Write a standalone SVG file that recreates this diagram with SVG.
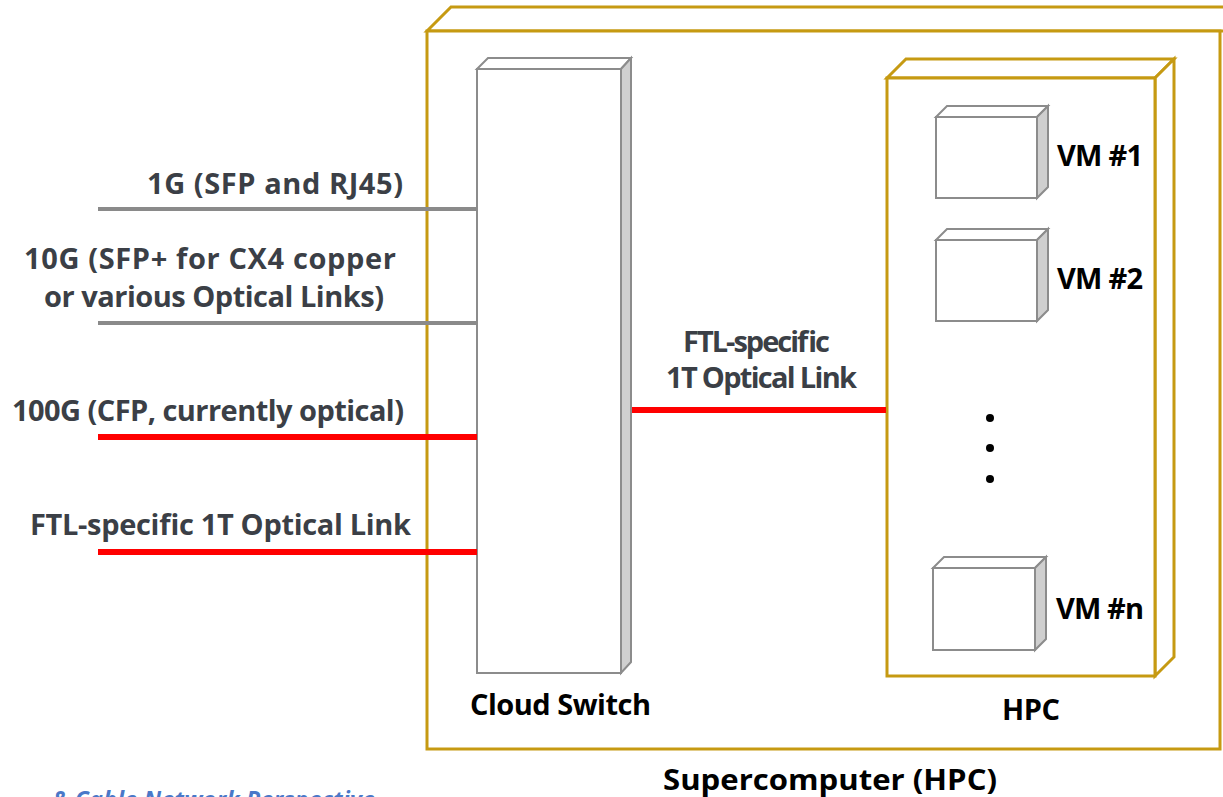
<svg xmlns="http://www.w3.org/2000/svg" width="1223" height="797" viewBox="0 0 1223 797">
  <style>
    .gold { fill: #ffffff; stroke: #c69a12; stroke-width: 3; stroke-linejoin: miter; }
    .box { fill: #ffffff; stroke: #8c8c8c; stroke-width: 2; }
    .side { fill: #cfcfcf; stroke: #8c8c8c; stroke-width: 2; }
    .lbl { font-family: "Open Sans", "Noto Sans", sans-serif; font-weight: bold; font-size: 29px; fill: #3b3f46; }
    .blk { font-family: "Open Sans", "Noto Sans", sans-serif; font-weight: bold; font-size: 29px; fill: #000000; }
    .gray { stroke: #8a8a8a; stroke-width: 4; fill: none; }
    .red { stroke: #ff0000; stroke-width: 6; fill: none; }
  </style>

  <rect width="1223" height="797" fill="#ffffff"/>

  <!-- Supercomputer enclosure -->
  <g id="supercomputer">
    <path class="gold" d="M427,31 L451,7 L1240,7 L1240,31 Z"/>
    <rect class="gold" x="427" y="31" width="793" height="718"/>
    <text class="blk" x="663" y="790" font-size="32" textLength="334" lengthAdjust="spacingAndGlyphs">Supercomputer (HPC)</text>
  </g>

  <!-- Cloud switch -->
  <g id="cloud-switch">
    <path class="box" d="M477,69 L488,58 L631,58 L621,69 Z"/>
    <path class="side" d="M621,69 L631,58 L631,662 L621,673 Z"/>
    <rect class="box" x="477" y="69" width="144" height="604"/>
    <text class="blk" x="470" y="715" textLength="181">Cloud Switch</text>
  </g>

  <!-- HPC -->
  <g id="hpc">
    <path class="gold" d="M887,78 L906,59 L1174,59 L1155,78 Z"/>
    <path class="gold" d="M1155,78 L1174,59 L1174,657 L1155,676 Z"/>
    <rect class="gold" x="887" y="78" width="268" height="598"/>
    <text class="blk" x="1002" y="720" textLength="58">HPC</text>
  </g>

  <g id="vm1">
    <path class="box" d="M936,117 L947,106 L1048,106 L1037,117 Z"/>
    <path class="side" d="M1037,117 L1048,106 L1048,187 L1037,198 Z"/>
    <rect class="box" x="936" y="117" width="101" height="81"/>
    <text class="blk" x="1057" y="166" textLength="86">VM #1</text>
  </g>
  <g id="vm2">
    <path class="box" d="M936,240 L947,229 L1048,229 L1037,240 Z"/>
    <path class="side" d="M1037,240 L1048,229 L1048,310 L1037,321 Z"/>
    <rect class="box" x="936" y="240" width="101" height="81"/>
    <text class="blk" x="1057" y="289" textLength="86">VM #2</text>
  </g>
  <g id="vm-dots" fill="#000000">
    <circle cx="990" cy="418" r="4"/>
    <circle cx="990" cy="448" r="4"/>
    <circle cx="990" cy="479" r="4"/>
  </g>
  <g id="vmn">
    <path class="box" d="M933,568 L944,557 L1046,557 L1035,568 Z"/>
    <path class="side" d="M1035,568 L1046,557 L1046,639 L1035,650 Z"/>
    <rect class="box" x="933" y="568" width="102" height="82"/>
    <text class="blk" x="1056" y="619" textLength="88">VM #n</text>
  </g>

  <!-- Links -->
  <g id="connectors">
    <line class="gray" x1="98" y1="209" x2="477" y2="209"/>
    <line class="gray" x1="98" y1="323" x2="477" y2="323"/>
    <line class="red" x1="98" y1="437" x2="477" y2="437"/>
    <line class="red" x1="98" y1="552" x2="477" y2="552"/>
    <line class="red" x1="632" y1="410" x2="886" y2="410"/>
  </g>

  <g id="link-labels">
    <text class="lbl" x="147" y="194" textLength="256">1G (SFP and RJ45)</text>
    <text class="lbl" x="24" y="269" textLength="372">10G (SFP+ for CX4 copper</text>
    <text class="lbl" x="44" y="307" textLength="340">or various Optical Links)</text>
    <text class="lbl" x="12" y="421" textLength="392">100G (CFP, currently optical)</text>
    <text class="lbl" x="30" y="535" textLength="381">FTL-specific 1T Optical Link</text>
    <text class="lbl" x="683" y="352" textLength="147">FTL-specific</text>
    <text class="lbl" x="666" y="388" textLength="191">1T Optical Link</text>
  </g>

  <text x="52" y="808" font-family="Open Sans, Noto Sans, sans-serif" font-weight="bold" font-style="italic" font-size="23" fill="#4a78c8" textLength="323">&amp; Cable Network Perspective</text>
</svg>
